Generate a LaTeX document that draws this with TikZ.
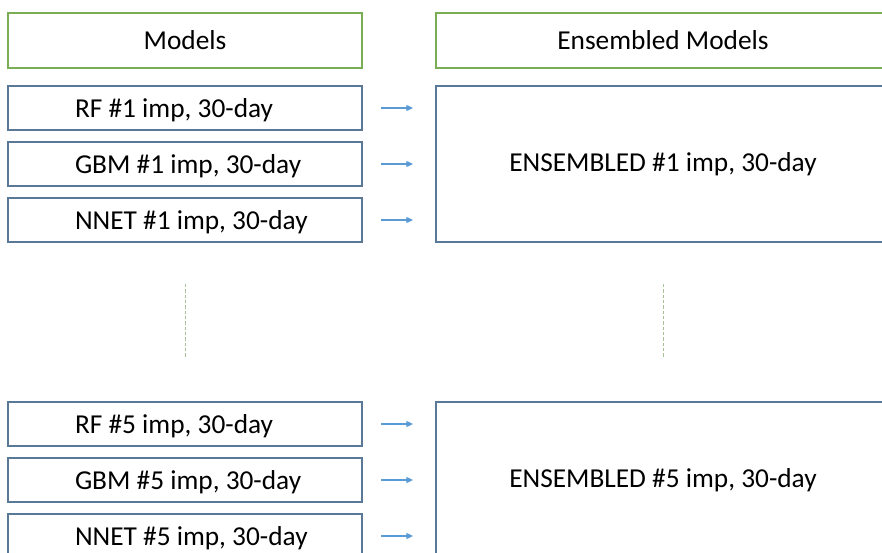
\documentclass[tikz,border=0pt]{standalone}
\usepackage{fontspec}
\setmainfont{Carlito}
\usetikzlibrary{arrows.meta}
\definecolor{hdrgreen}{HTML}{7AAE55}
\definecolor{boxblue}{HTML}{5A7898}
\definecolor{arrblue}{HTML}{5B9BD5}
\definecolor{dotgreen}{HTML}{A8C29C}
\def\px{0.75pt}
\newcommand\mlabel[1]{\makebox[165pt][l]{\raisebox{-7pt}[0pt][0pt]{#1}}}
\tikzset{
  base/.style={draw, rectangle, inner sep=0pt, line width={2*\px}, font=\fontsize{20.5pt}{24pt}\selectfont, text=black},
  hdr/.style={base, draw=hdrgreen, minimum height={55*\px}},
  modelbox/.style={base, draw=boxblue, minimum width={354*\px}, minimum height={44*\px}},
  ensbox/.style={base, draw=boxblue, minimum width={454*\px}, minimum height={156*\px}},
  flow/.style={draw=arrblue, line width={1.2*\px}, -{Triangle[length=5pt,width=4.5pt]}, shorten <={18*\px}, shorten >={22*\px}},
  dotline/.style={draw=dotgreen, line width={1*\px}, dash pattern=on 2.5pt off 1.5pt}
}
\begin{document}
\begin{tikzpicture}[x=\px, y=-\px]
\useasboundingbox (0,0) rectangle (882,553);
\clip (0,0) rectangle (882,553);
\node[hdr, minimum width={354*\px}] (mh) at (185,40.5) {Models};
\node[hdr, minimum width={454*\px}] (eh) at (663,40.5) {Ensembled Models};

\node[modelbox] (rf1) at (185,108) {\mlabel{RF \#1 imp, 30-day}};
\node[modelbox] (gbm1) at (185,164) {\mlabel{GBM \#1 imp, 30-day}};
\node[modelbox] (nn1) at (185,220) {\mlabel{NNET \#1 imp, 30-day}};
\node[ensbox] (en1) at (663,164) {ENSEMBLED \#1 imp, 30-day};

\node[modelbox] (rf5) at (185,424) {\mlabel{RF \#5 imp, 30-day}};
\node[modelbox] (gbm5) at (185,480) {\mlabel{GBM \#5 imp, 30-day}};
\node[modelbox] (nn5) at (185,536) {\mlabel{NNET \#5 imp, 30-day}};
\node[ensbox] (en5) at (663,480) {ENSEMBLED \#5 imp, 30-day};

\foreach \a/\b in {rf1/en1, gbm1/en1, nn1/en1, rf5/en5, gbm5/en5, nn5/en5}
  \draw[flow] (\a.east) -- (\a.east -| \b.west);

\coordinate (d1a) at (185,284);
\coordinate (d1b) at (185,358);
\coordinate (d2a) at (663,284);
\coordinate (d2b) at (663,358);
\draw[dotline] (d1a) -- (d1b);
\draw[dotline] (d2a) -- (d2b);
\end{tikzpicture}
\end{document}
